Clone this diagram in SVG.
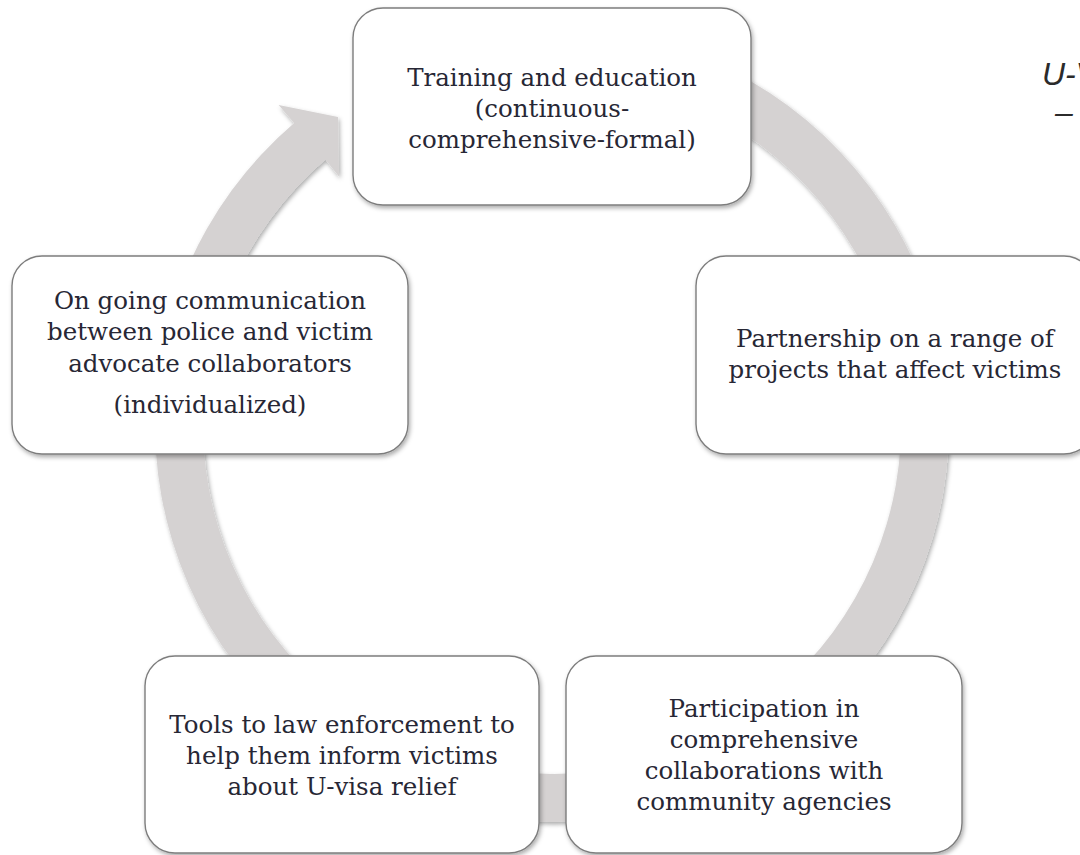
<svg xmlns="http://www.w3.org/2000/svg" width="1080" height="855" viewBox="0 0 1080 855">
<defs>
<filter id="sh" x="-10%" y="-10%" width="120%" height="120%">
<feDropShadow dx="1.5" dy="2.5" stdDeviation="2" flood-color="#000" flood-opacity="0.32"/>
</filter>
<style>
.box{fill:#ffffff;stroke:#7d7d7d;stroke-width:1.4;filter:url(#sh)}
.ring{fill:#d5d2d2;filter:url(#sh)}
.t{font-family:"DejaVu Serif","Liberation Serif",serif;font-size:24.5px;fill:#272735;text-anchor:middle}
.side{font-family:"Liberation Sans",Arial,sans-serif;font-size:32px;font-style:italic;fill:#2b2b2b}
</style>
</defs>
<rect width="1080" height="855" fill="#ffffff"/>
<g id="connectors">
<path class="ring" d="M 552 28 A 397 397 0 1 1 294.2 123.1 L 278.6 104.9 L 338 117 L 339 176.5 L 325.4 159.6 A 349 349 0 1 0 552 76 Z"/>
</g>
<g id="node-training">
<rect class="box" x="353" y="8" width="398" height="197" rx="30"/>
<text class="t" x="552" y="86">Training and education</text>
<text class="t" x="552" y="117">(continuous-</text>
<text class="t" x="552" y="148">comprehensive-formal)</text>
</g>
<g id="node-partnership">
<rect class="box" x="696" y="256" width="398" height="198" rx="30"/>
<text class="t" x="895" y="347">Partnership on a range of</text>
<text class="t" x="895" y="378">projects that affect victims</text>
</g>
<g id="node-participation">
<rect class="box" x="566" y="656" width="396" height="197" rx="30"/>
<text class="t" x="764" y="717">Participation in</text>
<text class="t" x="764" y="748">comprehensive</text>
<text class="t" x="764" y="779">collaborations with</text>
<text class="t" x="764" y="810">community agencies</text>
</g>
<g id="node-tools">
<rect class="box" x="145" y="656" width="394" height="197" rx="30"/>
<text class="t" x="342" y="733">Tools to law enforcement to</text>
<text class="t" x="342" y="764">help them inform victims</text>
<text class="t" x="342" y="795">about U-visa relief</text>
</g>
<g id="node-communication">
<rect class="box" x="12" y="256" width="396" height="198" rx="30"/>
<text class="t" x="210" y="309">On going communication</text>
<text class="t" x="210" y="340">between police and victim</text>
<text class="t" x="210" y="372">advocate collaborators</text>
<text class="t" x="210" y="413">(individualized)</text>
</g>
<g id="side-text">
<text class="side" x="1042" y="85">U-V</text>
<text class="side" x="1055" y="123">–</text>
</g>
</svg>
